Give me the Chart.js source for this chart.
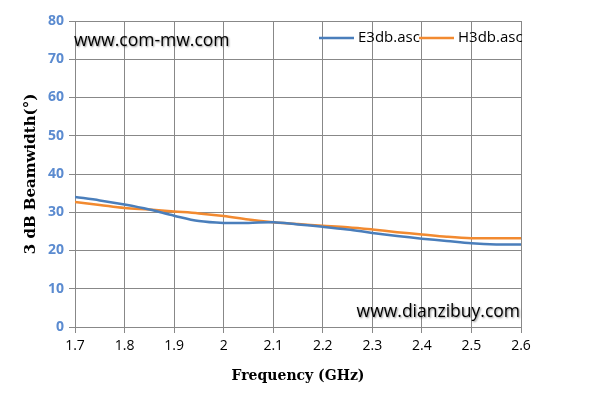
<!DOCTYPE html>
<html><head><meta charset="utf-8">
<script src="https://cdn.jsdelivr.net/npm/chart.js@4"></script>
<style>html,body{margin:0;padding:0;background:#fff}</style>
</head><body>
<canvas id="c" width="594" height="410"></canvas>
<script>
const frequencies = [1.7,1.75,1.8,1.85,1.9,1.95,2.0,2.05,2.1,2.15,2.2,2.25,2.3,2.35,2.4,2.45,2.5,2.55,2.6];
const e3db = [34.0,33.1,32.0,30.7,29.1,27.7,27.2,27.2,27.4,26.8,26.2,25.5,24.6,23.8,23.1,22.5,21.9,21.6,21.6];
const h3db = [32.7,31.9,31.1,30.7,30.2,29.7,29.0,28.1,27.4,26.9,26.5,26.1,25.5,24.8,24.2,23.6,23.2,23.2,23.2];
const seriesNames = ['E3db.asc','H3db.asc'];
const seriesColors = ['#4a7ebb','#f28a30'];
const xTickValues = [1.7,1.8,1.9,2.0,2.1,2.2,2.3,2.4,2.5,2.6];
const yTickValues = [0,10,20,30,40,50,60,70,80];
const xTitle = 'Frequency (GHz)';
const yTitle = '3 dB Beamwidth(°)';
const watermarks = ['www.com-mw.com','www.dianzibuy.com'];

const toPts = arr => arr.map((v,i)=>({x:frequencies[i], y:v}));

const overlay = {
  id:'overlay',
  afterDatasetsDraw(chart){
    const ctx = chart.ctx, a = chart.chartArea;
    ctx.save();
    // legend
    ctx.font = '15px "Open Sans", sans-serif';
    ctx.textBaseline = 'middle';
    ctx.textAlign = 'left';
    const ly = a.top + 17;
    const starts = [319, 419];
    chart.data.datasets.forEach((ds,i)=>{
      ctx.strokeStyle = ds.borderColor; ctx.lineWidth = 2.5;
      ctx.beginPath(); ctx.moveTo(starts[i], ly); ctx.lineTo(starts[i]+35, ly); ctx.stroke();
      ctx.fillStyle = '#000';
      ctx.fillText(ds.label, starts[i]+39, ly);
    });
    // watermarks
    ctx.font = '17.5px "Open Sans", sans-serif';
    ctx.shadowColor = 'rgba(0,0,0,0.45)';
    ctx.shadowBlur = 2; ctx.shadowOffsetX = 1; ctx.shadowOffsetY = 1;
    ctx.fillStyle = '#000';
    ctx.textAlign = 'left';
    ctx.fillText(watermarks[0], a.left - 1, a.top + 20);
    ctx.textAlign = 'right';
    ctx.fillText(watermarks[1], a.right - 1, a.bottom - 15);
    ctx.restore();
  }
};

new Chart(document.getElementById('c'), {
  type:'line',
  data:{ datasets:[
    {label:seriesNames[0], data:toPts(e3db), borderColor:seriesColors[0], backgroundColor:seriesColors[0], borderWidth:2.5, pointRadius:0, tension:0.35, fill:false},
    {label:seriesNames[1], data:toPts(h3db), borderColor:seriesColors[1], backgroundColor:seriesColors[1], borderWidth:2.5, pointRadius:0, tension:0.35, fill:false}
  ]},
  options:{
    responsive:false, animation:false, devicePixelRatio:1,
    layout:{padding:{left:0, top:21, right:73, bottom:0}},
    plugins:{legend:{display:false}, tooltip:{enabled:false}},
    scales:{
      x:{type:'linear', min:1.7, max:2.6,
        afterBuildTicks(s){ s.ticks = xTickValues.map(v=>({value:v})); },
        afterFit(s){ s.height = 83; },
        grid:{color:'#888', lineWidth:1, tickLength:6, drawTicks:true},
        border:{color:'#888'},
        ticks:{padding:5, color:'#000', font:{family:'"Open Sans", sans-serif', size:14}, maxRotation:0,
          callback:v=>String(Number(v.toFixed(1)))},
        title:{display:true, text:xTitle, color:'#000', font:{family:'"DejaVu Serif", serif', size:14, weight:'bold'}, padding:{top:0,bottom:25}}
      },
      y:{min:0, max:80,
        afterBuildTicks(s){ s.ticks = yTickValues.map(v=>({value:v})); },
        afterFit(s){ s.width = 75; },
        grid:{color:'#888', lineWidth:1, tickLength:6},
        border:{color:'#888'},
        ticks:{padding:5, color:'#5b8bd0', font:{family:'"Open Sans", sans-serif', size:14, weight:'bold'}},
        title:{display:true, text:yTitle, color:'#000', font:{family:'"DejaVu Serif", serif', size:15, weight:'bold'}, padding:{top:22,bottom:0}}
      }
    }
  },
  plugins:[overlay]
});
</script>
</body></html>
